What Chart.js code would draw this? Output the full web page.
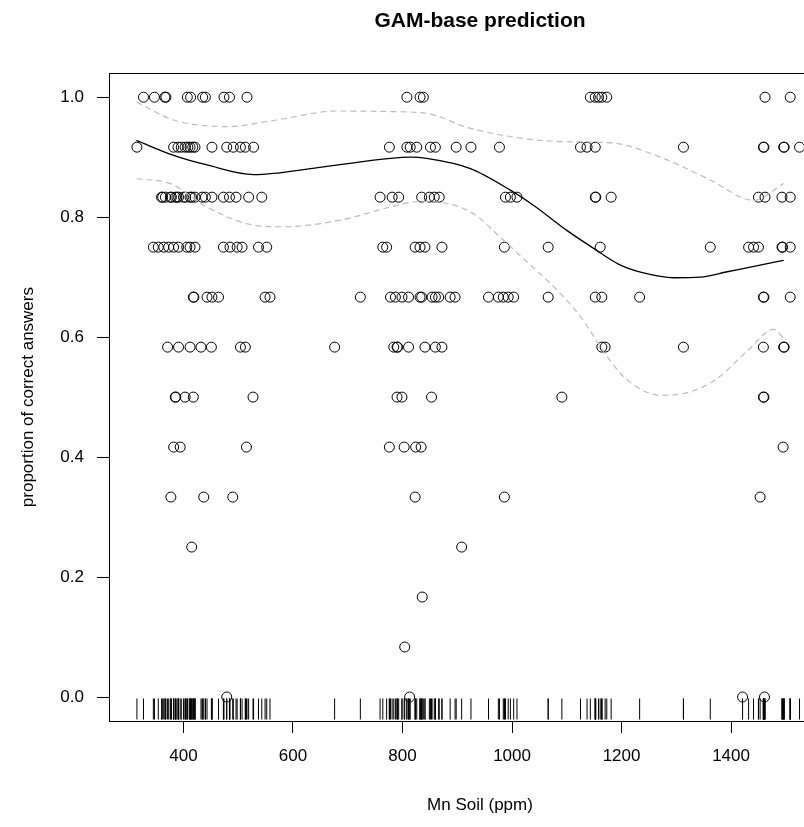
<!DOCTYPE html>
<html>
<head>
<meta charset="utf-8">
<script src="https://cdn.jsdelivr.net/npm/chart.js@4.4.1/dist/chart.umd.min.js"></script>
<style>
  html, body { margin: 0; padding: 0; overflow: hidden; background: #fff; }
  canvas { display: block; }
</style>
</head>
<body>
<canvas id="grafica" width="880" height="827"></canvas>
<script>
// Mn soil values (ppm) of the observations, grouped by number of correct answers out of 12
const mn12 = [327, 347, 366, 368, 407, 413, 435, 440, 474, 484, 516, 808, 832, 838, 1143, 1152, 1158, 1164, 1173, 1462, 1508];
const mn11 = [315, 382, 390, 396, 403, 408, 412, 417, 421, 452, 479, 491, 504, 513, 528, 776, 808, 814, 826, 851, 860, 898, 925, 977, 1125, 1137, 1152, 1313, 1459, 1460, 1496, 1497, 1525];
const mn10 = [360, 362, 367, 376, 378, 385, 388, 391, 400, 404, 412, 415, 421, 434, 440, 452, 473, 484, 496, 519, 543, 759, 781, 793, 835, 849, 858, 867, 988, 997, 1009, 1152, 1153, 1181, 1450, 1462, 1493, 1508];
const mn9 = [345, 354, 364, 373, 382, 391, 406, 412, 421, 473, 485, 498, 507, 537, 552, 764, 771, 823, 832, 841, 872, 986, 1066, 1161, 1362, 1432, 1441, 1450, 1493, 1494, 1508];
const mn8 = [418, 419, 443, 452, 464, 549, 558, 723, 778, 787, 799, 811, 832, 835, 854, 860, 866, 887, 896, 957, 975, 984, 993, 1003, 1066, 1152, 1164, 1233, 1459, 1460, 1508];
const mn7 = [371, 391, 412, 432, 451, 504, 513, 676, 784, 790, 791, 811, 841, 860, 872, 1164, 1170, 1313, 1459, 1496, 1497];
const mn6 = [385, 386, 403, 418, 527, 790, 799, 853, 1091, 1459, 1460];
const mn5 = [382, 394, 515, 776, 803, 824, 834, 1495];
const mn4 = [377, 437, 490, 823, 986, 1453];
const mn3 = [415, 908];
const mn2 = [836];
const mn1 = [804];
const mn0 = [479, 813, 1421, 1461];

// GAM fit and its confidence band
const fitX = [314, 382, 443, 528, 656, 778, 814, 844, 924, 997, 1039, 1100, 1149, 1198, 1240, 1295, 1344, 1393, 1453, 1496];
const fitY = [0.928, 0.903, 0.887, 0.871, 0.884, 0.898, 0.9, 0.898, 0.881, 0.845, 0.82, 0.778, 0.748, 0.72, 0.707, 0.699, 0.7, 0.709, 0.72, 0.728];
const upperX = [314, 382, 479, 570, 680, 778, 845, 924, 1088, 1180, 1271, 1362, 1441, 1496];
const upperY = [0.992, 0.962, 0.951, 0.962, 0.977, 0.976, 0.973, 0.948, 0.926, 0.924, 0.9, 0.862, 0.828, 0.856];
const lowerX = [314, 376, 443, 516, 583, 687, 778, 830, 875, 929, 978, 1010, 1088, 1125, 1174, 1211, 1272, 1308, 1370, 1431, 1478, 1496];
const lowerY = [0.864, 0.856, 0.817, 0.789, 0.784, 0.795, 0.817, 0.826, 0.824, 0.806, 0.767, 0.74, 0.673, 0.634, 0.567, 0.528, 0.503, 0.505, 0.528, 0.578, 0.613, 0.598];

const xTicks = [400, 600, 800, 1000, 1200, 1400, 1600];
const yTicks = [0, 0.2, 0.4, 0.6, 0.8, 1.0];

const groups = [mn0, mn1, mn2, mn3, mn4, mn5, mn6, mn7, mn8, mn9, mn10, mn11, mn12];
var points = [];
groups.forEach((xs, k) => {
  xs.forEach((x) => points.push({ x: x, y: k / 12 }));
});

const RUG_Y = -0.02;
const rug = points.map((p) => ({ x: p.x, y: RUG_Y }));
const toXY = (xs, ys) => xs.map((x, i) => ({ x: x, y: ys[i] }));

Chart.defaults.font.family = "'Liberation Sans', Arial, sans-serif";
Chart.defaults.color = "#000";

// marco completo del grafico (estilo R)
const boxPlugin = {
  id: "box",
  afterDraw(chart) {
    const a = chart.chartArea;
    const c = chart.ctx;
    const al = (v) => Math.round(v - 0.5) + 0.5;
    c.save();
    c.strokeStyle = "#000";
    c.lineWidth = 1;
    c.strokeRect(al(a.left), al(a.top), al(a.right) - al(a.left), al(a.bottom) - al(a.top));
    c.restore();
  },
};

const ctx = document.getElementById("grafica");
new Chart(ctx, {
  type: "scatter",
  data: {
    datasets: [
      {
        data: rug,
        pointStyle: "line",
        pointRotation: 90,
        pointRadius: 10.5,
        pointBorderColor: "#000",
        pointBorderWidth: 1,
      },
      {
        data: toXY(upperX, upperY),
        showLine: true,
        borderColor: "#bdbdbd",
        borderWidth: 1.2,
        borderDash: [6, 4],
        pointRadius: 0,
        cubicInterpolationMode: "monotone",
      },
      {
        data: toXY(lowerX, lowerY),
        showLine: true,
        borderColor: "#bdbdbd",
        borderWidth: 1.2,
        borderDash: [6, 4],
        pointRadius: 0,
        cubicInterpolationMode: "monotone",
      },
      {
        data: toXY(fitX, fitY),
        showLine: true,
        borderColor: "#000",
        borderWidth: 1.3,
        pointRadius: 0,
        cubicInterpolationMode: "monotone",
      },
      {
        data: points,
        pointStyle: "circle",
        pointRadius: 5,
        pointBorderColor: "#000",
        pointBorderWidth: 1,
        pointBackgroundColor: "rgba(0,0,0,0)",
      },
    ],
  },
  options: {
    responsive: false,
    animation: false,
    events: [],
    layout: { padding: { left: 0, right: 29, top: 0, bottom: 0 } },
    plugins: {
      legend: { display: false },
      tooltip: { enabled: false },
      title: {
        display: true,
        text: "GAM-base prediction",
        fullSize: false,
        color: "#000",
        font: { size: 21, weight: "bold" },
        padding: { top: 9, bottom: 39 },
      },
    },
    scales: {
      x: {
        type: "linear",
        min: 264,
        max: 1619,
        afterBuildTicks: (s) => { s.ticks = xTicks.map((v) => ({ value: v })); },
        afterFit: (s) => { s.height = 106; },
        grid: { drawOnChartArea: false, tickLength: 12, tickColor: "#000" },
        border: { color: "#000", width: 1 },
        ticks: { color: "#000", font: { size: 17 }, padding: 13, maxRotation: 0, autoSkip: false, callback: (v) => String(v) },
        title: { display: true, text: "Mn Soil (ppm)", color: "#000", font: { size: 17 }, padding: { top: 0, bottom: 11 } },
      },
      y: {
        type: "linear",
        min: -0.04,
        max: 1.04,
        afterBuildTicks: (s) => { s.ticks = yTicks.map((v) => ({ value: v })); },
        afterFit: (s) => { s.width = 109; },
        grid: { drawOnChartArea: false, tickLength: 12, tickColor: "#000" },
        border: { color: "#000", width: 1 },
        ticks: { color: "#000", font: { size: 17 }, padding: 13, callback: (v) => Number(v).toFixed(1) },
        title: { display: true, text: "proportion of correct answers", color: "#000", font: { size: 17 }, padding: { top: 18, bottom: 0 } },
      },
    },
  },
  plugins: [boxPlugin],
});
</script>
</body>
</html>
